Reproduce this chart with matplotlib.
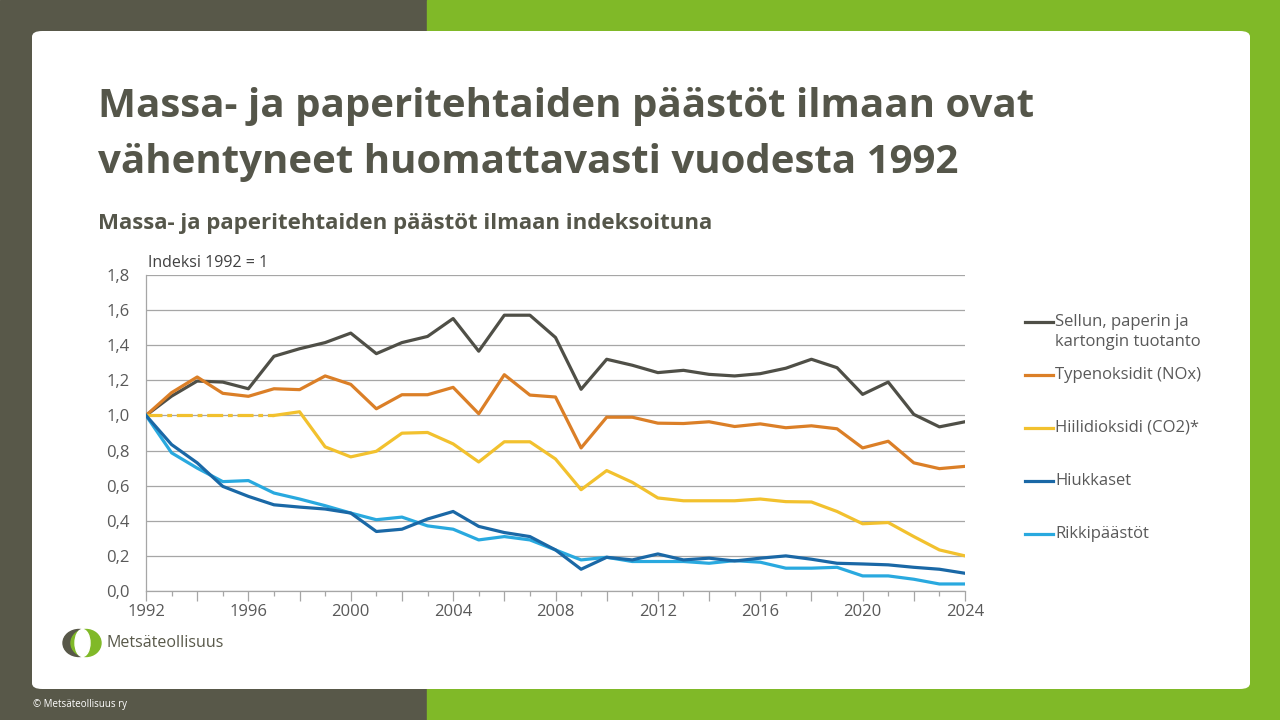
import matplotlib
matplotlib.use("Agg")
import matplotlib.pyplot as plt
import matplotlib.ticker as ticker
from matplotlib.patches import FancyBboxPatch, Rectangle, Ellipse

# data (index 1992 = 1)
years = list(range(1992, 2025))
sellu = [1.0, 1.11, 1.196, 1.19, 1.152, 1.337, 1.38, 1.415, 1.469, 1.352, 1.415,
         1.45, 1.552, 1.366, 1.571, 1.571, 1.444, 1.149, 1.32, 1.286, 1.244, 1.257,
         1.234, 1.225, 1.238, 1.269, 1.32, 1.272, 1.12, 1.19, 1.006, 0.935, 0.964]
nox = [1.0, 1.13, 1.219, 1.126, 1.109, 1.152, 1.147, 1.225, 1.177, 1.038, 1.118,
       1.118, 1.16, 1.01, 1.232, 1.116, 1.105, 0.815, 0.99, 0.99, 0.956, 0.954,
       0.964, 0.937, 0.952, 0.93, 0.941, 0.924, 0.815, 0.853, 0.73, 0.697, 0.71]
co2 = [1.0, 1.0, 1.0, 1.0, 1.0, 1.0, 1.021, 0.821, 0.764, 0.796, 0.899,
       0.903, 0.838, 0.735, 0.85, 0.85, 0.752, 0.577, 0.686, 0.619, 0.53, 0.514,
       0.514, 0.514, 0.524, 0.509, 0.507, 0.453, 0.383, 0.39, 0.31, 0.234, 0.2]
co2_estimated_until = 1997  # dashed part
hiukkaset = [1.0, 0.834, 0.73, 0.596, 0.539, 0.491, 0.478, 0.467, 0.444, 0.339, 0.352,
             0.41, 0.453, 0.368, 0.333, 0.31, 0.234, 0.124, 0.192, 0.177, 0.211, 0.177,
             0.187, 0.171, 0.187, 0.2, 0.181, 0.158, 0.154, 0.149, 0.135, 0.124, 0.101]
rikki = [1.0, 0.787, 0.70, 0.623, 0.629, 0.558, 0.524, 0.486, 0.444, 0.406, 0.421,
         0.371, 0.352, 0.291, 0.31, 0.291, 0.234, 0.177, 0.192, 0.168, 0.168, 0.168,
         0.158, 0.173, 0.164, 0.13, 0.13, 0.135, 0.086, 0.086, 0.067, 0.04, 0.04]

labels = ["Sellun, paperin ja\nkartongin tuotanto", "Typenoksidit (NOx)",
          "Hiilidioksidi (CO2)*", "Hiukkaset", "Rikkipäästöt"]
colors = ["#4f4f47", "#db7f27", "#f2c12e", "#1a68a6", "#29a9df"]

DARK = "#585849"
GREEN = "#80b928"
TEXT = "#55564a"
GREY = "#595959"

plt.rcParams['font.family'] = ['Open Sans', 'DejaVu Sans']

W, H = 1280, 720
fig = plt.figure(figsize=(12.8, 7.2), dpi=100)

def fx(x):
    return x / W

def fy(y):
    return 1 - y / H

# slide background
fig.patches.append(Rectangle((0, 0), fx(427), 1, transform=fig.transFigure,
                             color=DARK, zorder=0))
fig.patches.append(Rectangle((fx(427), 0), 1 - fx(427), 1, transform=fig.transFigure,
                             color=GREEN, zorder=0))
fig.patches.append(FancyBboxPatch((fx(32), fy(689)), fx(1250 - 32), (689 - 31) / H,
                                  boxstyle="round,pad=0,rounding_size=0.008",
                                  transform=fig.transFigure, facecolor="white",
                                  edgecolor="none", zorder=1))

# titles
fig.text(fx(98), fy(107), "Massa- ja paperitehtaiden päästöt ilmaan ovat",
         fontsize=29, fontweight="bold", color=TEXT, va="center", ha="left")
fig.text(fx(98), fy(162), "vähentyneet huomattavasti vuodesta 1992",
         fontsize=29, fontweight="bold", color=TEXT, va="center", ha="left")
fig.text(fx(98), fy(223), "Massa- ja paperitehtaiden päästöt ilmaan indeksoituna",
         fontsize=16, fontweight="bold", color=TEXT, va="center", ha="left")

# chart
ax = fig.add_axes([fx(146), fy(591), fx(965 - 146), (591 - 275) / H])
ax.set_zorder(2)
lw = 2.3
for s, c in zip([sellu, nox], colors[:2]):
    ax.plot(years, s, color=c, lw=lw, zorder=3)
n_est = years.index(co2_estimated_until) + 1
ax.plot(years[:n_est], co2[:n_est], color=colors[2], lw=lw,
        linestyle=(0, (5, 1.5, 1.5, 1.5)), zorder=3)
ax.plot(years[n_est - 1:], co2[n_est - 1:], color=colors[2], lw=lw, zorder=3)
ax.plot(years, hiukkaset, color=colors[3], lw=lw, zorder=4)
ax.plot(years, rikki, color=colors[4], lw=lw, zorder=3)

ax.set_xlim(1992, 2024)
ax.set_ylim(0, 1.8)
ax.yaxis.set_major_locator(ticker.MultipleLocator(0.2))
ax.yaxis.set_major_formatter(ticker.FuncFormatter(lambda v, p: f"{v:.1f}".replace(".", ",")))
ax.xaxis.set_major_locator(ticker.MultipleLocator(2))
ax.xaxis.set_minor_locator(ticker.MultipleLocator(1))
ax.xaxis.set_major_formatter(ticker.FuncFormatter(
    lambda v, p: f"{int(round(v))}" if int(round(v)) % 4 == 0 else ""))
ax.grid(axis="y", color="#a6a6a6", lw=0.9)
ax.set_axisbelow(True)
for side in ["top", "right", "left"]:
    ax.spines[side].set_visible(False)
ax.spines["bottom"].set_color("#a6a6a6")
ax.spines["bottom"].set_linewidth(0.9)
ax.tick_params(axis="y", length=0, labelsize=12, labelcolor=GREY, pad=12)
ax.tick_params(axis="x", which="major", length=7, color="#a6a6a6", width=0.9,
               labelsize=12, labelcolor=GREY, pad=2)
ax.tick_params(axis="x", which="minor", length=3.5, color="#a6a6a6", width=0.9)
ax.plot([1992, 1992], [0, 1.8], color="#a6a6a6", lw=0.9, zorder=2, clip_on=False)
ax.patch.set_alpha(0)

fig.text(fx(148), fy(263), "Indeksi 1992 = 1", fontsize=11.5, color="#404040",
         va="center", ha="left")

# legend drawn by hand to match the spacing of the reference
leg_y = [322, 375, 428, 481, 534]
for lab, c, y in zip(labels, colors, leg_y):
    fig.lines.append(plt.Line2D([fx(1025), fx(1053)], [fy(y), fy(y)],
                                transform=fig.transFigure, color=c, lw=2.3, zorder=3))
    fig.text(fx(1055), fy(y - 8), lab, fontsize=12, color=GREY, va="top",
             ha="left", linespacing=1.3, zorder=3)

# logo
fig.patches.append(Ellipse((fx(79), fy(643)), 32 / W, 27 / H,
                           transform=fig.transFigure, color=DARK, zorder=3))
fig.patches.append(Ellipse((fx(86), fy(643)), 30 / W, 27 / H,
                           transform=fig.transFigure, color=GREEN, zorder=3))
fig.patches.append(Ellipse((fx(82.5), fy(643)), 15 / W, 27 / H,
                           transform=fig.transFigure, color="white", zorder=4))
fig.text(fx(107), fy(643), "Metsäteollisuus", fontsize=11.5, color=DARK,
         va="center", ha="left", zorder=3)

# footer
fig.text(fx(33), fy(704), "© Metsäteollisuus ry", fontsize=7, color="white",
         va="center", ha="left")

fig.savefig("out.png", dpi=100)
